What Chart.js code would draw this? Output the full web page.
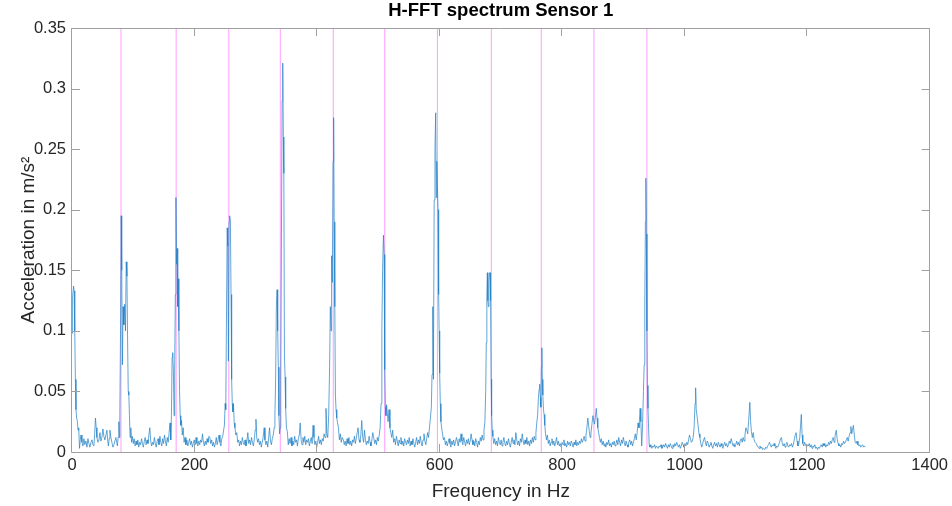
<!DOCTYPE html>
<html>
<head>
<meta charset="utf-8">
<script src="https://cdn.jsdelivr.net/npm/chart.js@4/dist/chart.umd.min.js"></script>
<style>
html,body{margin:0;padding:0;background:#fff;}
canvas{display:block;}
</style>
</head>
<body>
<canvas id="c" width="952" height="506"></canvas>
<script>
// ---- data ----
const chartTitle = 'H-FFT spectrum Sensor 1';
const xLabel = 'Frequency in Hz';
const yLabel = 'Acceleration in m/s\u00B2';

// Frequencies of the vertical marker lines (Hz)
const markerHz = [80, 170, 256, 340, 426.5, 510.5, 596.5, 684.5, 766, 852, 938.5];

// Spectrum: frequency (Hz)
const freqHz = [
0,1,2.5,3.5,4.5,5.5,6.5,7.6,8.6,9.8,
11,12.2,13.5,14.7,16.3,17.9,19.5,21,22.8,24.4,
26,27.6,29.3,31,32.6,34.2,35.8,37,38.3,39.5,
40.7,42.3,44,45.6,47.2,48.8,50.5,52,53.7,55.3,
57,58.2,59.4,60.7,61.9,63.5,65.1,66.8,68.4,70,
71.6,72.9,74.1,75.3,76.5,77.3,78.1,79.2,80.3,81.2,
82.3,83.4,84.6,86,87.3,88.5,89.7,90.8,91.8,92.8,
93.8,94.8,96,97.2,98.5,
100,101.5,103,104.5,106,107.5,109,110.5,112,113.5,
115,116.5,118,119.5,121,122.5,124,125.5,127,128.5,
130,131.5,133,134.5,136,137.5,139,140.5,142,143.5,
145,146.5,148,149.5,151,152.5,154,155.5,157,158.5,
160,161.2,162.3,163.4,164.4,165.5,166.6,167.6,168.7,169.7,
170.7,171.7,172.6,173.5,174.5,175.6,176.6,177.6,178.8,180,
181.5,183,184.5,186,187.5,189,190.5,192,193.5,195,
196.5,198,199.5,201,202.5,204,205.5,207,208.5,210,
211.5,213,214.5,216,217.5,219,220.5,222,223.5,225,
226.5,228,229.5,231,232.5,234,235.5,237,238.5,240,
241.5,243,244.5,246,247.5,248.8,
250,251,252,253.3,254.3,255.3,256.4,257.4,258.6,259.6,
260.6,261.6,262.6,263.6,264.8,266,267.5,269,270.5,272,
273.5,275,276.5,278,279.5,281,282.5,284,285.5,287,
288.5,290,291.5,293,294.5,296,297.5,299,300.3,301.5,
303,304.5,306,307.5,309,310.5,312,313.7,315,316.5,
318,319.5,321,322.5,324,325.5,327,328.5,330,
331.2,332.4,333.6,334.8,335.8,336.8,337.8,338.8,339.8,340.8,
341.9,343,344,345,345.8,346.8,347.8,348.8,350,351.5,
353,354.5,356,357.5,359,360.5,362,363.5,365,366.5,
368,369.5,371,372.5,374,375.5,377,378.5,380,381.5,
383,384.5,386,387.5,389,390.5,392,393.5,395,396.5,
398,399.5,401,402.5,404,405.5,407,408.5,410,411.5,
413,414.6,416,417.5,419,420.5,421.7,422.8,423.8,425,
426.2,427.1,428,429,430,431,432.2,433.5,435,436.5,
438,439.5,441,443,444.5,446,447.5,449,450.5,452,
453.5,455,456.5,458,459.5,461,462.5,464,465.5,467,
468.5,470,471.5,473,474.5,476,477.5,479,480.5,482,
483.5,485,486.5,488,489.5,491,492.5,494,495.5,497,
498.5,500,501.5,
503,504.5,505.8,507,508.4,509.5,510.5,511.5,512.5,513.5,
514.8,516,517.5,519,520.5,522,523.5,525,526.5,528,
529.5,531,532.5,534,535.5,537,538.5,540,541.5,543,
544.5,546,547.5,549,550.5,552,553.5,555,556.5,558,
559.5,561,562.5,564,565.5,567,568.5,570,571.5,573,
574.5,576,577.5,579,580.5,582,583.5,585,586.6,587.7,
589,590,591.2,592.5,593.7,594.6,595.5,596.5,597.5,598.5,
599.3,600.2,601.2,602.2,603.4,604.8,606.3,608,609.5,611,
612.5,614,615.5,617,618.5,620,621.5,623,624.5,626,
627.5,629,630.5,632,633.5,635,636.5,638,639.5,641,
642.5,644,645.5,647,648.5,650,651.5,653,654.5,656,
657.5,659,660.5,662,663.5,665,666.5,668,669.5,671,
672.5,674,
675.3,676.3,677.2,678,678.8,679.7,680.6,681.5,682.4,683.3,
684.2,685,686,687,688.5,690,691.5,693,694.5,696,
697.5,699,700.5,702,703.5,705,706.5,708,709.5,711,
712.5,714,715.5,717,718.5,720,721.5,723,724.5,726,
727.5,729,730.5,732,733.5,735,736.5,738,739.5,741,
742.5,744,745.5,747,748.5,750,751.5,753,754.5,756,
757.3,758.8,760,761.3,762.5,763.5,764.5,765.3,766.2,767,
767.8,768.6,769.6,770.6,771.8,773,774.5,776,777.5,779,
780.5,782,783.5,785,786.5,788,789.5,791,792.5,794,
795.5,797,798.5,800,801.5,803,804.5,806,807.5,809,
810.5,812,813.5,815,816.5,818,819.5,821,822.5,824,
825.5,827,828.5,830,831.5,833,834.5,836,837.5,839,
840.5,
842,843.3,844.5,845.8,847,848.5,850.3,851.5,853,854.5,
855.8,857,858.3,859.6,861,862.5,864,865.5,867,868.5,
870,871.5,873,874.5,876,877.5,879,880.5,882,883.5,
885,886.5,888,889.5,891,892.5,894,895.5,897,898.5,
900,901.5,903,904.5,906,907.5,909,910.5,912,913.5,
915,916.5,918,919.5,921,922.5,924,925.5,927.4,928.6,
930,931.2,932.8,934,935,936,936.8,937.6,938.5,939.3,
940.2,941.2,942.2,943.5,945,946.5,948,949.5,951,952.5,
954,955.5,957,958.5,960,961.5,963,964.5,966,967.5,
969,970.5,972,973.5,975,976.5,978,979.5,981,982.5,
984,985.5,987,988.5,990,991.5,993,994.5,996,997.5,
999,1000.5,1002,1003.5,1005,1006.5,
1008,1009.5,1011,1012.5,1014,1015.5,1017,1018,1019,1020.7,
1022,1023.5,1025,1026.5,1028,1029.5,1031,1032.5,1034,1035.5,
1037,1038.5,1040,1041.5,1043,1044.5,1046,1047.5,1049,1050.5,
1052,1053.5,1055,1056.5,1058,1059.5,1061,1062.5,1064,1065.5,
1067,1068.5,1070,1071.5,1073,1074.5,1076,1077.5,1079,1080.5,
1082,1083.5,1085,1086.5,1088,1089.5,1091,1092.5,1094,1095.5,
1097,1098.5,1100,1101.5,1103,1104.5,1106.5,1107.8,1109,1110.5,
1112,1113.5,1115,1117,1118.5,1120,1121.5,1123,1124.5,1126,
1127.5,1129,1131,1132.5,1134,1135.5,1137,1138.5,1140,1141.5,
1143,1144.5,1146,1147.5,1149,1150.5,1152,1153.5,1155,
1156.5,1158,1159.5,1161,1162.5,1164,1165.5,1167,1168.5,1170,
1171.5,1173,1174.5,1176,1177.5,1179,1180.5,1182,1183.5,1185,
1186.5,1188,1189.3,1190.5,1191.8,1193,1194.5,1196,1197.5,1199,
1200.5,1202,1203.5,1205,1206.5,1208,1209.5,1211,1212.5,1214,
1215.5,1217,1218.5,1220,1221.5,1223,1224.5,1226,1227.5,1229,
1230.5,1232,1233.5,1235,1236.5,1238,1239.5,1241,1242.5,1244,
1245.5,1247.5,1249,1250.5,1252,1253.5,1255,1256.5,1258,1259.5,
1261,1262.5,1264,1265.5,1267,1268.5,1270,1271.4,1272.8,1274,
1275.5,1277,1278.5,1280,1281.5,1283,1284.5,1286,1287.5,1289,
1290.5,1292,1293.5,1295,1296
];

// Spectrum: acceleration amplitude (m/s^2)
const accel = [
.098,.128,.137,.133,.1,.06,.035,.028,.026,.018,
.02,.003,.01,.014,.008,.005,.011,.006,.009,.004,
.011,.007,.004,.008,.01,.006,.005,.015,.028,.02,
.012,.008,.01,.016,.009,.012,.019,.013,.01,.014,
.018,.01,.005,.011,.018,.012,.008,.004,.006,.009,
.012,.008,.005,.012,.025,.012,.03,.1,.195,.15,
.072,.12,.105,.122,.1,.157,.145,.09,.05,.047,
.03,.012,.02,.008,.013,
.007,.011,.005,.009,.006,.01,.004,.008,.006,.011,
.007,.004,.009,.012,.006,.01,.007,.014,.02,.009,
.005,.008,.006,.012,.007,.004,.009,.011,.006,.013,
.008,.005,.011,.007,.014,.009,.005,.012,.008,.016,
.024,.01,.03,.078,.082,.068,.03,.07,.13,.21,
.155,.168,.12,.143,.1,.05,.03,.022,.026,.014,
.02,.008,.012,.006,.01,.005,.008,.011,.006,.009,
.004,.007,.01,.006,.012,.007,.005,.009,.006,.01,
.008,.015,.008,.005,.009,.006,.011,.008,.013,.012,
.007,.01,.005,.008,.004,.007,.012,.006,.01,.014,
.008,.005,.011,.013,.018,.022,
.04,.035,.1,.185,.17,.075,.19,.195,.19,.13,
.06,.04,.033,.04,.024,.02,.014,.016,.008,.01,
.005,.009,.006,.012,.008,.006,.01,.005,.009,.016,
.007,.01,.006,.012,.008,.005,.01,.018,.027,.012,
.008,.011,.006,.009,.004,.008,.012,.02,.01,.006,
.009,.004,.012,.02,.009,.006,.011,.014,.02,
.03,.06,.12,.134,.1,.07,.03,.015,.02,.06,
.18,.29,.321,.26,.23,.08,.062,.036,.02,.017,
.006,.011,.007,.012,.005,.009,.006,.013,.008,.01,
.005,.011,.014,.024,.01,.006,.012,.008,.013,.006,
.01,.008,.011,.005,.009,.012,.007,.022,.012,.006,
.009,.004,.008,.013,.007,.01,.006,.011,.009,.015,
.012,.036,.015,.012,.03,.07,.12,.1,.162,.14,
.24,.276,.19,.12,.047,.035,.028,.024,.02,.01,
.015,.008,.012,.01,.006,.009,.005,.011,.007,.012,
.006,.009,.005,.01,.008,.013,.007,.011,.016,.02,
.01,.008,.014,.026,.012,.008,.018,.01,.006,.009,
.007,.013,.008,.005,.01,.016,.012,.007,.01,.006,
.012,.009,.014,
.02,.04,.1,.15,.179,.163,.068,.037,.03,.039,
.032,.025,.035,.02,.016,.012,.018,.008,.011,.006,
.013,.009,.005,.01,.007,.012,.006,.009,.005,.011,
.008,.006,.01,.007,.012,.005,.009,.006,.011,.007,
.004,.008,.012,.006,.01,.007,.013,.008,.005,.01,
.015,.009,.006,.011,.016,.012,.02,.028,.037,.064,
.12,.06,.208,.25,.28,.21,.24,.22,.2,.13,
.1,.065,.04,.025,.02,.015,.01,.012,.006,.009,
.005,.008,.011,.007,.004,.009,.006,.01,.005,.008,
.012,.009,.005,.011,.008,.015,.009,.006,.012,.008,
.005,.01,.007,.011,.006,.009,.015,.01,.006,.009,
.005,.011,.008,.004,.009,.006,.012,.009,.014,.01,
.018,.025,
.05,.09,.13,.148,.125,.12,.14,.148,.148,.125,
.06,.03,.018,.013,.007,.011,.006,.009,.005,.012,
.008,.006,.01,.005,.008,.012,.007,.005,.009,.006,
.011,.007,.004,.008,.012,.007,.01,.006,.016,.01,
.006,.009,.005,.011,.008,.015,.009,.006,.01,.007,
.012,.006,.009,.005,.01,.007,.012,.008,.013,.01,
.016,.025,.03,.044,.052,.056,.045,.037,.07,.086,
.06,.047,.035,.031,.022,.015,.01,.014,.007,.01,
.005,.008,.011,.006,.009,.005,.008,.012,.006,.009,
.005,.007,.004,.008,.006,.01,.005,.007,.004,.009,
.006,.008,.005,.009,.007,.004,.008,.006,.01,.005,
.008,.006,.009,.007,.011,.008,.01,.013,.009,.014,
.02,
.028,.022,.017,.012,.015,.022,.03,.026,.023,.03,
.036,.028,.02,.016,.012,.008,.011,.006,.009,.005,
.007,.004,.008,.006,.01,.005,.007,.004,.008,.006,
.009,.005,.007,.01,.006,.012,.008,.005,.01,.007,
.012,.008,.005,.009,.006,.004,.008,.01,.006,.009,
.005,.008,.011,.015,.01,.016,.024,.02,.036,.025,
.005,.02,.05,.072,.12,.19,.226,.18,.1,.055,
.036,.02,.006,.004,.006,.003,.005,.004,.006,.003,
.005,.004,.003,.005,.004,.006,.003,.004,.006,.004,
.007,.005,.003,.006,.004,.007,.005,.003,.006,.004,
.007,.005,.008,.006,.004,.006,.003,.005,.008,.006,
.004,.007,.005,.008,.006,.01,
.014,.011,.008,.009,.012,.02,.04,.053,.035,.028,
.022,.015,.012,.007,.004,.007,.01,.012,.008,.005,
.009,.007,.004,.006,.008,.005,.003,.006,.008,.005,
.007,.004,.008,.006,.004,.007,.005,.003,.006,.008,
.005,.007,.004,.006,.009,.007,.011,.008,.005,.007,
.004,.006,.009,.006,.008,.005,.01,.011,.008,.012,
.009,.014,.02,.018,.015,.025,.041,.025,.017,.012,
.016,.01,.008,.007,.005,.004,.003,.005,.003,.004,
.002,.003,.002,.004,.003,.005,.006,.008,.006,.004,
.006,.005,.007,.005,.003,.005,.004,.006,.008,
.011,.012,.007,.005,.007,.004,.006,.008,.005,.004,
.006,.005,.007,.004,.006,.01,.014,.016,.009,.005,
.007,.012,.022,.031,.014,.007,.005,.008,.006,.004,
.006,.005,.007,.004,.006,.003,.005,.004,.006,.003,
.004,.002,.004,.003,.005,.006,.004,.007,.005,.007,
.004,.006,.005,.008,.006,.009,.007,.01,.012,.008,
.013,.018,.011,.007,.005,.006,.004,.007,.006,.009,
.007,.008,.01,.012,.009,.013,.016,.021,.015,.018,
.022,.014,.008,.007,.009,.006,.005,.006,.004,.005,
.006,.004,.005,.004,.004
];

const xTicks = [0, 200, 400, 600, 800, 1000, 1200, 1400];
const yTicks = [0, 0.05, 0.1, 0.15, 0.2, 0.25, 0.3, 0.35];

// ---- build chart ----
const FONT = "'Liberation Sans', Arial, Helvetica, sans-serif";
const AXIS_GREY = '#a0a0a0';
const TEXT = '#262626';

const n = Math.min(freqHz.length, accel.length);
const spectrumPts = [];
for (let i = 0; i < n; i++) spectrumPts.push({x: freqHz[i], y: accel[i]});

const datasets = markerHz.map(f => ({
  data: [{x: f, y: yTicks[0]}, {x: f, y: yTicks[yTicks.length - 1]}],
  borderColor: '#ff9cff',
  borderWidth: 1,
  pointRadius: 0,
  order: 2
}));
datasets.push({
  data: spectrumPts,
  borderColor: '#1f7fc4',
  borderWidth: 0.7,
  pointRadius: 0,
  tension: 0,
  order: 1
});

const framePlugin = {
  id: 'frame',
  afterDatasetsDraw(chart) {
    const {ctx, chartArea: a, scales: {x, y}} = chart;
    ctx.save();
    ctx.strokeStyle = AXIS_GREY;
    ctx.lineWidth = 1;
    ctx.beginPath();
    ctx.rect(Math.round(a.left) - 0.5, Math.round(a.top) + 0.5,
             Math.round(a.right - a.left) + 0, Math.round(a.bottom - a.top));
    ctx.stroke();
    const L = 8;
    ctx.beginPath();
    xTicks.forEach(v => {
      const p = Math.round(x.getPixelForValue(v)) - 0.5;
      ctx.moveTo(p, a.bottom); ctx.lineTo(p, a.bottom - L);
      ctx.moveTo(p, a.top); ctx.lineTo(p, a.top + L);
    });
    yTicks.forEach(v => {
      const p = Math.round(y.getPixelForValue(v)) + 0.5;
      ctx.moveTo(a.left, p); ctx.lineTo(a.left + L, p);
      ctx.moveTo(a.right, p); ctx.lineTo(a.right - L, p);
    });
    ctx.stroke();
    ctx.restore();
  }
};

new Chart(document.getElementById('c'), {
  type: 'line',
  data: {datasets},
  plugins: [framePlugin],
  options: {
    responsive: false,
    animation: false,
    devicePixelRatio: 1,
    events: [],
    layout: {padding: {left: 0, right: 20, top: 0, bottom: 0}},
    plugins: {
      legend: {display: false},
      tooltip: {enabled: false},
      title: {
        display: true,
        text: chartTitle,
        fullSize: false,
        color: '#000',
        font: {family: FONT, size: 18.5, weight: 'bold', lineHeight: 1.2},
        padding: {top: 0, bottom: 5.8}
      }
    },
    scales: {
      x: {
        type: 'linear',
        min: xTicks[0],
        max: xTicks[xTicks.length - 1],
        afterFit(s) { s.height = 54; },
        afterBuildTicks(s) { s.ticks = xTicks.map(v => ({value: v})); },
        grid: {display: false, drawTicks: false},
        border: {display: false},
        ticks: {
          color: TEXT, padding: 4, maxRotation: 0, autoSkip: false,
          font: {family: FONT, size: 16.5},
          callback: v => String(v)
        },
        title: {
          display: true, text: xLabel, color: TEXT,
          font: {family: FONT, size: 19, lineHeight: 1.2},
          padding: {top: 0, bottom: 3}
        }
      },
      y: {
        type: 'linear',
        min: yTicks[0],
        max: yTicks[yTicks.length - 1],
        afterFit(s) { s.width = 72; },
        afterBuildTicks(s) { s.ticks = yTicks.map(v => ({value: v})); },
        grid: {display: false, drawTicks: false},
        border: {display: false},
        ticks: {
          color: TEXT, padding: 6, autoSkip: false,
          font: {family: FONT, size: 16.5},
          callback: v => String(Math.round(v * 100) / 100)
        },
        title: {
          display: true, text: yLabel, color: TEXT,
          font: {family: FONT, size: 19, lineHeight: 1.2},
          padding: {top: 17, bottom: 0}
        }
      }
    }
  }
});
</script>
</body>
</html>
